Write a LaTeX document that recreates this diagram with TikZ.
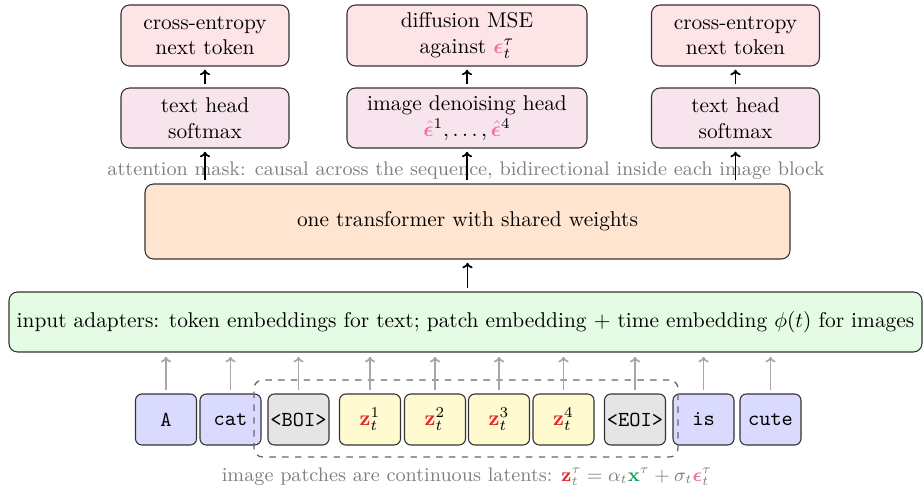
\documentclass[tikz,border=0pt]{standalone}
\usepackage{amsmath,bm}
\usetikzlibrary{arrows.meta}

\definecolor{lossfill}{HTML}{FDE4E6}
\definecolor{headfill}{HTML}{F7E4EC}
\definecolor{trfill}{HTML}{FFE5CF}
\definecolor{adfill}{HTML}{E4FCE4}
\definecolor{txtfill}{HTML}{DADAFE}
\definecolor{specfill}{HTML}{E5E5E5}
\definecolor{latfill}{HTML}{FFFACF}
\definecolor{zcol}{HTML}{E8202A}
\definecolor{xcol}{HTML}{16A05A}
\definecolor{epscol}{HTML}{F06EAA}

% one drawing unit
\newcommand{\pxu}{0.4677pt}

\begin{document}
\begin{tikzpicture}[x=\pxu,y=-\pxu,
  box/.style={draw=black!80, line width=0.5pt, rounded corners=4pt, align=center, inner sep=2pt},
  loss/.style={box, fill=lossfill, minimum width=168*\pxu, minimum height=61*\pxu},
  head/.style={box, fill=headfill, minimum width=168*\pxu, minimum height=60*\pxu},
  tok/.style={draw=black!80, line width=0.5pt, rounded corners=3pt, minimum width=61*\pxu, minimum height=51*\pxu, inner sep=1pt, font=\ttfamily},
  txttok/.style={tok, fill=txtfill},
  spectok/.style={tok, fill=specfill},
  lattok/.style={tok, fill=latfill},
  note/.style={text=black!50, font=\fontsize{9.2pt}{11pt}\selectfont, inner sep=0pt},
  flow/.style={-{To[length=2.6pt,width=4.8pt]}, line width=0.8pt, black, shorten >=1.5pt, shorten <=1.5pt},
  feed/.style={-{To[length=2.6pt,width=4.8pt]}, line width=0.8pt, black!35, shorten >=2pt, shorten <=1.5pt}
]
\useasboundingbox (0,0) rectangle (924,491);

% loss boxes
\node[loss] (lossL) at (205,35.5) {cross-entropy\\next token};
\node[loss, minimum width=240*\pxu] (lossM) at (467,35.5) {diffusion MSE\\against $\textcolor{epscol}{\bm{\epsilon}}_t^\tau$};
\node[loss] (lossR) at (735.5,35.5) {cross-entropy\\next token};

% output heads
\node[head] (headL) at (205,118) {text head\\softmax};
\node[head, minimum width=240*\pxu] (headM) at (467,118) {image denoising head\\$\textcolor{epscol}{\hat{\bm{\epsilon}}}^1,\dots,\textcolor{epscol}{\hat{\bm{\epsilon}}}^4$};
\node[head] (headR) at (735.5,118) {text head\\softmax};

% attention note
\node[note] (mask) at (466,171) {attention mask: causal across the sequence, bidirectional inside each image block};

% backbone and adapters
\node[box, fill=trfill, minimum width=645*\pxu, minimum height=75*\pxu] (tf) at (467.5,221.5) {one transformer with shared weights};
\node[box, fill=adfill, minimum width=913*\pxu, minimum height=60*\pxu] (ad) at (465.5,322) {input adapters: token embeddings for text; patch embedding $+$ time embedding $\phi(t)$ for images};

% input sequence
\node[txttok] (tA) at (166,419.5) {A};
\node[txttok] (tcat) at (230.5,419.5) {cat};
\node[spectok] (tboi) at (298.5,419.5) {<BOI>};
\node[lattok] (z1) at (370,419.5) {$\textcolor{zcol}{\mathbf{z}}_t^1$};
\node[lattok] (z2) at (435,419.5) {$\textcolor{zcol}{\mathbf{z}}_t^2$};
\node[lattok] (z3) at (499,419.5) {$\textcolor{zcol}{\mathbf{z}}_t^3$};
\node[lattok] (z4) at (563.5,419.5) {$\textcolor{zcol}{\mathbf{z}}_t^4$};
\node[spectok] (teoi) at (635,419.5) {<EOI>};
\node[txttok] (tis) at (703.5,419.5) {is};
\node[txttok] (tcute) at (770.5,419.5) {cute};

% image block outline
\node[draw=black!60, line width=0.6pt, dashed, rounded corners=4pt, minimum width=424*\pxu, minimum height=77*\pxu, inner sep=0pt] (imgblock) at (466,418.5) {};

% caption
\node[note] (cap) at (467,477) {image patches are continuous latents: $\textcolor{zcol}{\mathbf{z}}_t^\tau = \alpha_t \textcolor{xcol}{\mathbf{x}}^\tau + \sigma_t \textcolor{epscol}{\bm{\epsilon}}_t^\tau$};

% head to loss
\draw[flow] (headL) -- (lossL);
\draw[flow] (headM) -- (lossM);
\draw[flow] (headR) -- (lossR);

% transformer to heads
\draw[flow] (tf.north -| headL) -- (headL.south);
\draw[flow] (tf.north -| headM) -- (headM.south);
\draw[flow] (tf.north -| headR) -- (headR.south);

% adapters to transformer
\draw[flow] (ad.north -| tf) -- (tf.south);

% tokens to adapters
\foreach \t in {tA,tcat,tboi,z1,z2,z3,z4,teoi,tis,tcute}
  \draw[feed] (\t.north) -- (ad.south -| \t);
\end{tikzpicture}
\end{document}
